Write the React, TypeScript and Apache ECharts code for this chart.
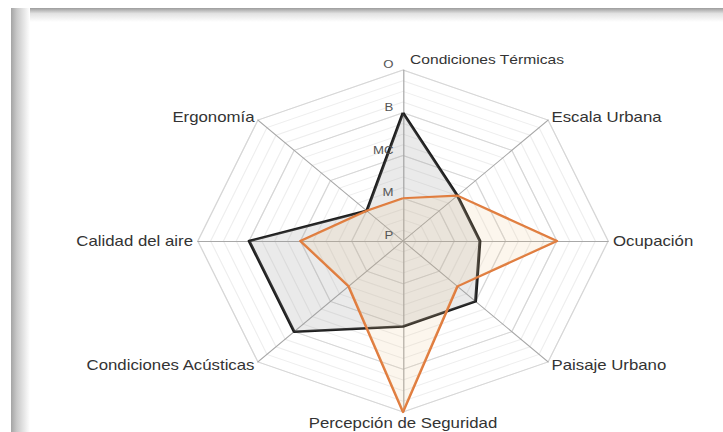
import React, { useEffect, useRef } from "react";
import * as echarts from "echarts";

// Axes listed counter-clockwise from the top (ECharts radar order)
const categories = [
  "Condiciones Térmicas",
  "Ergonomía",
  "Calidad del aire",
  "Condiciones Acústicas",
  "Percepción de Seguridad",
  "Paisaje Urbano",
  "Ocupación",
  "Escala Urbana",
];
const seriesBlack = [4, 2, 4, 4, 3, 3, 2.5, 2.5];
const seriesOrange = [2, 2, 3, 2.5, 5, 2.5, 4, 2.5];
const levelLabels = ["P", "M", "MC", "B", "O"];
const scaleMin = 1;
const scaleMax = 5;

const SX = 1.2;
const W = 723;
const H = 432;
const CW = W / SX;
const CX = 403 / SX;
const CY = 241;
const R = 171;
const FONT = "Liberation Sans, Arial, sans-serif";

export default function App() {
  const ref = useRef<HTMLDivElement>(null);
  useEffect(() => {
    if (!ref.current) return;
    const chart = echarts.init(ref.current, undefined, { renderer: "svg" });
    const indicator = categories.map((name) => ({ name, min: scaleMin, max: scaleMax }));
    const option: any = {
      animation: false,
      backgroundColor: "#ffffff",
      graphic: [
        {
          type: "rect",
          shape: { x: 11 / SX, y: 8, width: (W - 11) / SX, height: 14 },
          style: {
            fill: new echarts.graphic.LinearGradient(0, 0, 0, 1, [
              { offset: 0, color: "#9c9c9c" },
              { offset: 0.4, color: "#e2e2e2" },
              { offset: 1, color: "#ffffff" },
            ]),
          },
          z: -10,
        },
        {
          type: "rect",
          shape: { x: 11 / SX, y: 8, width: 19 / SX, height: H - 8 },
          style: {
            fill: new echarts.graphic.LinearGradient(0, 0, 1, 0, [
              { offset: 0, color: "#a4a4a4" },
              { offset: 0.3, color: "#c8c8c8" },
              { offset: 1, color: "#ffffff" },
            ]),
          },
          z: -9,
        },
      ],
      polar: { center: [CX, CY], radius: R },
      angleAxis: { show: false, min: 0, max: 360, startAngle: 90 },
      radiusAxis: {
        type: "value",
        min: scaleMin,
        max: scaleMax,
        interval: 1,
        axisLine: { show: false },
        axisTick: { show: false },
        splitLine: { show: false },
        axisLabel: {
          show: true,
          color: "#555",
          fontSize: 11,
          fontFamily: FONT,
          verticalAlign: "bottom",
          formatter: (v: number) => levelLabels[Math.round(v) - scaleMin] ?? "",
        },
        z: 10,
      },
      radar: [
        {
          indicator,
          center: [CX, CY],
          radius: R,
          startAngle: 90,
          splitNumber: 4,
          shape: "polygon",
          nameGap: 4,
          axisName: {
            color: "#333",
            fontSize: 14,
            fontFamily: FONT,
            formatter: (name: string) =>
              name === categories[0] ? `{shift|${name}}` : name,
            rich: {
              shift: {
                padding: [0, 0, 0, 140],
                color: "#333",
                fontSize: 13,
                fontFamily: FONT,
              },
            },
          },
          axisLine: { lineStyle: { color: "#a8a8a8", width: 1 } },
          splitLine: { lineStyle: { color: "#d6d6d6", width: 1 } },
          splitArea: { show: false },
          z: 2,
        },
        {
          indicator: categories.map(() => ({ name: "", min: scaleMin, max: scaleMax })),
          center: [CX, CY],
          radius: R,
          startAngle: 90,
          splitNumber: 16,
          shape: "polygon",
          axisName: { show: false },
          axisLine: { show: false },
          splitLine: { lineStyle: { color: "#eeeeee", width: 1 } },
          splitArea: { show: false },
          z: 1,
        },
      ],
      series: [
        {
          type: "radar",
          radarIndex: 0,
          symbol: "none",
          z: 3,
          data: [
            {
              name: "Serie 1",
              value: seriesBlack,
              lineStyle: { color: "#1c1c1c", width: 2.5 },
              areaStyle: { color: "rgba(150,150,150,0.28)" },
            },
            {
              name: "Serie 2",
              value: seriesOrange,
              lineStyle: { color: "#e07a3c", width: 2.2 },
              areaStyle: { color: "rgba(236,196,140,0.22)" },
            },
          ],
        },
      ],
    };
    chart.setOption(option);
    return () => chart.dispose();
  }, []);

  return (
    <div
      style={{
        position: "fixed",
        left: 0,
        top: 0,
        width: W,
        height: H,
        overflow: "hidden",
        background: "#fff",
      }}
    >
      <div
        ref={ref}
        style={{
          position: "absolute",
          left: 0,
          top: 0,
          width: CW,
          height: H,
          transform: `scaleX(${SX})`,
          transformOrigin: "0 0",
        }}
      />
    </div>
  );
}
